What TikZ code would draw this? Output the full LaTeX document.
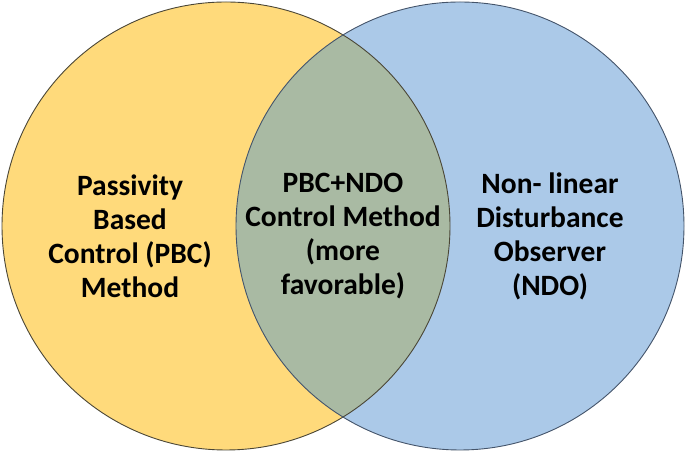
\documentclass[tikz,border=0pt]{standalone}
\usepackage{fontspec}
\setmainfont{Carlito}
\definecolor{yel}{HTML}{FFDA7B}
\definecolor{blu}{HTML}{ABC9E8}
\definecolor{ovl}{HTML}{A9BAA3}
\definecolor{edgeL}{HTML}{4A4636}
\definecolor{edgeR}{HTML}{44546A}
\tikzset{
  setcircle/.style={circle, minimum size=448pt, inner sep=0pt},
  lbl/.style={align=center, font=\fontsize{29.5}{34}\selectfont\bfseries, text=black}
}
\begin{document}
\begin{tikzpicture}[x=1pt,y=1pt]
\useasboundingbox (0,0) rectangle (685,454);
\node[setcircle, fill=yel] (L) at (226,228) {};
\node[setcircle, fill=blu] (R) at (460,228) {};
\begin{scope}
  \clip (226,228) circle (224);
  \fill[ovl] (460,228) circle (224);
\end{scope}
\draw[edgeL, line width=0.9pt] (226,228) circle (224);
\draw[edgeR, line width=0.9pt] (460,228) circle (224);
\node[lbl] (tl) at (130,218) {Passivity\\Based\\Control (PBC)\\Method};
\node[lbl] (tm) at (343,218) {PBC+NDO\\Control Method\\(more\\favorable)};
\node[lbl] (tr) at (550,218) {Non- linear\\Disturbance\\Observer\\(NDO)};
\end{tikzpicture}
\end{document}
